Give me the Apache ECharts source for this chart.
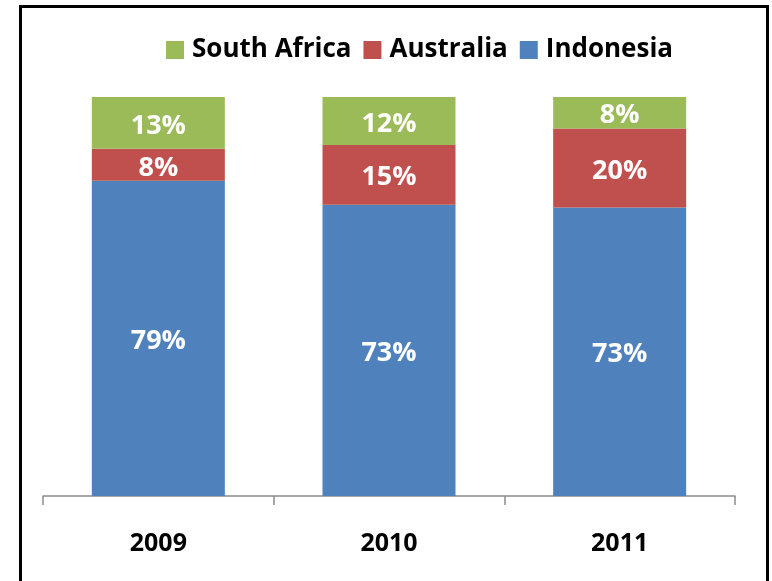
<!DOCTYPE html>
<html>
<head>
<meta charset="utf-8">
<script src="https://cdn.jsdelivr.net/npm/echarts@6/dist/echarts.min.js"></script>
<style>
  html, body { margin: 0; padding: 0; background: #fff; }
  #chart { width: 772px; height: 581px; }
</style>
</head>
<body>
<div id="chart"></div>
<script>
const years = ['2009', '2010', '2011'];
const indonesia = [79, 73, 73];
const australia = [8, 15, 20];
const southAfrica = [13, 12, 8];

// 100% 堆叠：每年按总和归一
const totals = years.map((_, i) => indonesia[i] + australia[i] + southAfrica[i]);
const share = (arr) => arr.map((v, i) => ({ value: v / totals[i], raw: v }));

const FONT = '"Open Sans", "DejaVu Sans", sans-serif';

const labelStyle = {
  show: true,
  position: 'inside',
  offset: [0, 3],
  color: '#fff',
  fontFamily: FONT,
  fontWeight: 'bold',
  fontSize: 27,
  formatter: (p) => p.data.raw + '%'
};

const mkSeries = (name, arr, color) => ({
  name,
  type: 'bar',
  stack: 'total',
  barWidth: 133,
  data: share(arr),
  itemStyle: { color },
  label: labelStyle,
  emphasis: { disabled: true }
});

const chart = echarts.init(document.getElementById('chart'));
chart.setOption({
  animation: false,
  graphic: [{
    type: 'rect',
    shape: { x: 20.5, y: 6.5, width: 747, height: 600 },
    style: { fill: 'none', stroke: '#000', lineWidth: 3 },
    silent: true
  }],
  legend: {
    data: ['South Africa', 'Australia', 'Indonesia'],
    left: 161,
    top: 32,
    itemWidth: 18,
    itemHeight: 18,
    itemGap: 12,
    icon: 'rect',
    textStyle: {
      fontFamily: FONT,
      fontWeight: 'bold',
      fontSize: 26,
      color: '#000',
      padding: [0, 0, 0, 3]
    }
  },
  grid: { left: 43, right: 37, top: 97, bottom: 85 },
  xAxis: {
    type: 'category',
    data: years,
    axisLine: { lineStyle: { color: '#8c8c8c', width: 1.5 } },
    axisTick: { show: true, length: 9, lineStyle: { color: '#8c8c8c', width: 1.5 } },
    axisLabel: {
      margin: 35,
      color: '#000',
      fontFamily: FONT,
      fontWeight: 'bold',
      fontSize: 25
    }
  },
  yAxis: {
    type: 'value',
    min: 0,
    max: 1,
    show: false
  },
  series: [
    mkSeries('Indonesia', indonesia, '#4F81BD'),
    mkSeries('Australia', australia, '#C0504D'),
    mkSeries('South Africa', southAfrica, '#9BBB59')
  ]
});
</script>
</body>
</html>
